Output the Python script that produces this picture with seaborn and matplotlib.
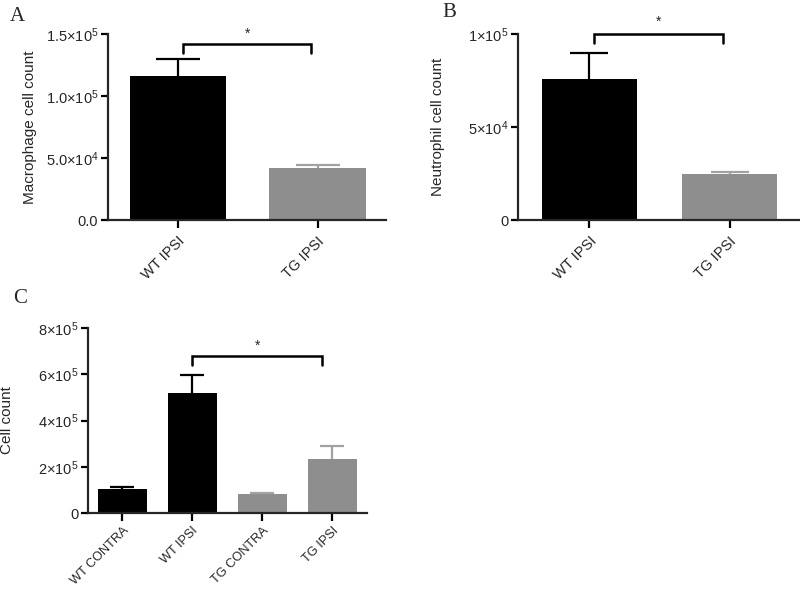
import matplotlib
matplotlib.use('Agg')
import matplotlib.pyplot as plt
import seaborn as sns

sns.set_style('ticks')
plt.rcParams['font.family'] = ['Liberation Sans', 'DejaVu Sans']
plt.rcParams['mathtext.fontset'] = 'custom'
plt.rcParams['mathtext.rm'] = 'Liberation Sans'
plt.rcParams['mathtext.it'] = 'Liberation Sans'
plt.rcParams['mathtext.bf'] = 'Liberation Sans'

# ---- data ----
a_groups = ['WT IPSI', 'TG IPSI']
a_means = [1.16e5, 4.2e4]
a_err = [1.4e4, 2.4e3]
a_ticks = [0, 5e4, 1e5, 1.5e5]
a_ticklabels = ['0.0', r'5.0×10$^{4}$', r'1.0×10$^{5}$', r'1.5×10$^{5}$']

b_groups = ['WT IPSI', 'TG IPSI']
b_means = [7.58e4, 2.47e4]
b_err = [1.4e4, 1.1e3]
b_ticks = [0, 5e4, 1e5]
b_ticklabels = ['0', r'5×10$^{4}$', r'1×10$^{5}$']

c_groups = ['WT CONTRA', 'WT IPSI', 'TG CONTRA', 'TG IPSI']
c_means = [1.04e5, 5.19e5, 8.2e4, 2.34e5]
c_err = [8e3, 7.8e4, 4e3, 5.6e4]
c_ticks = [0, 2e5, 4e5, 6e5, 8e5]
c_ticklabels = ['0', r'2×10$^{5}$', r'4×10$^{5}$', r'6×10$^{5}$', r'8×10$^{5}$']

BLACK = '#000000'
GREY = '#8e8e8e'
GREY_ERR = '#a2a2a2'

fig = plt.figure(figsize=(8, 5.9), dpi=100)
axA = fig.add_axes([0.135, 0.627, 0.3475, 0.315])
axB = fig.add_axes([0.6475, 0.627, 0.352, 0.315])
axC = fig.add_axes([0.11, 0.1305, 0.349, 0.3135])


def panel(ax, groups, means, errs, colors, ecolors, ticks, ticklabels, ylabel,
          ymax, xlim, capsize, labx, bracket, width, xfs, xpad):
    sns.barplot(x=groups, y=means, hue=groups, palette=colors, legend=False,
                width=width, linewidth=0, errorbar=None, ax=ax, saturation=1)
    for i, (m, e, ec) in enumerate(zip(means, errs, ecolors)):
        _, caps, _ = ax.errorbar([i], [m], yerr=[[0], [e]], fmt='none', ecolor=ec,
                                 elinewidth=1.6, capsize=capsize, capthick=1.6,
                                 zorder=3)
        caps[0].set_visible(False)
    ax.set_ylim(0, ymax)
    ax.set_xlim(*xlim)
    ax.set_yticks(ticks)
    ax.set_yticklabels(ticklabels, fontsize=10.5)
    ax.set_xticks(range(len(groups)))
    ax.set_xticklabels(groups, rotation=45, ha='right', va='top',
                       rotation_mode='anchor', fontsize=xfs)
    ax.set_ylabel(ylabel, fontsize=11)
    ax.yaxis.set_label_coords(labx, 0.5)
    ax.set_xlabel('')
    for s in ['top', 'right']:
        ax.spines[s].set_visible(False)
    for s in ['left', 'bottom']:
        ax.spines[s].set_linewidth(1.6)
    ax.tick_params(axis='both', width=1.6, length=5, pad=2, color='black')
    ax.tick_params(axis='x', length=6, pad=xpad)
    x0, x1, yb, yt, ys = bracket
    ax.plot([x0, x0, x1, x1], [yb, yt, yt, yb], color='black', lw=1.8,
            clip_on=False, solid_joinstyle='miter')
    ax.text((x0 + x1) / 2, ys, '*', ha='center', va='center', fontsize=10,
            clip_on=False)


panel(axA, a_groups, a_means, a_err, [BLACK, GREY], [BLACK, GREY_ERR],
      a_ticks, a_ticklabels, 'Macrophage cell count', 1.5e5, (-0.5, 1.49), 16,
      -0.255, (0.04, 0.955, 1.345e5, 1.425e5, 1.5e5), 0.69, 10.5, 4)
panel(axB, b_groups, b_means, b_err, [BLACK, GREY], [BLACK, GREY_ERR],
      b_ticks, b_ticklabels, 'Neutrophil cell count', 1e5, (-0.51, 1.5), 14,
      -0.259, (0.03, 0.95, 0.955e5, 1.003e5, 1.065e5), 0.68, 10.5, 4)
panel(axC, c_groups, c_means, c_err, [BLACK, BLACK, GREY, GREY],
      [BLACK, BLACK, GREY_ERR, GREY_ERR],
      c_ticks, c_ticklabels, 'Cell count', 8e5, (-0.49, 3.5), 8.5,
      -0.265, (1.0, 2.86, 6.4e5, 6.78e5, 7.25e5), 0.70, 9.2, 2.5)

for txt, x, y in [('A', 0.012, 0.988), ('B', 0.553, 0.995), ('C', 0.016, 0.51)]:
    fig.text(x, y, txt, fontsize=15, family=['Liberation Serif', 'DejaVu Serif'],
             ha='left', va='top')

fig.savefig('out.png', dpi=100)
